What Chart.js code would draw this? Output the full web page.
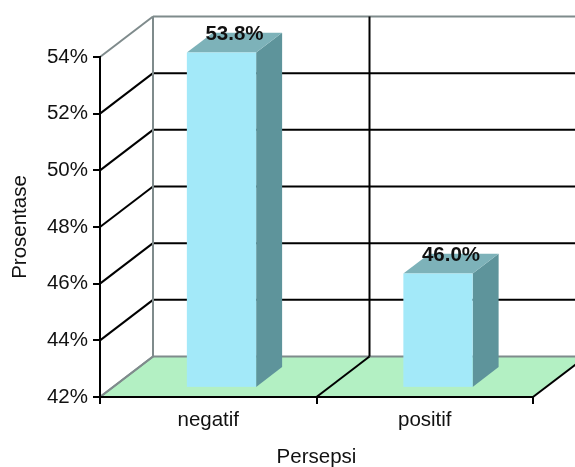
<!DOCTYPE html>
<html>
<head>
<meta charset="utf-8">
<script src="https://cdn.jsdelivr.net/npm/chart.js@4"></script>
<style>
    html, body { margin: 0; padding: 0; background: #fff; }
    canvas { display: block; }
</style>
</head>
<body>
<canvas id="mygra" width="575" height="467"></canvas>
<script>
const categories = ['negatif', 'positif'];
const percentages = [53.8, 46.0];
const yTicks = [42, 44, 46, 48, 50, 52, 54];

// fake depth of the 3d box (full depth of walls / floor)
const DX = 53;
const DY = 40.5;
// bars sit between these fractions of the depth
const BAR_FRONT = 0.25;
const BAR_BACK = 0.74;

const FRONT = '#a3e9f9';
const TOP = '#7db2b9';
const SIDE = '#5e949b';
const FLOOR = '#b3f0c3';
const EDGE = '#7f8b8c';
const FONT = { family: '"Liberation Sans", Arial, sans-serif', size: 20.5 };

function line(ctx, x1, y1, x2, y2, color) {
    ctx.strokeStyle = color;
    ctx.beginPath();
    ctx.moveTo(x1, y1);
    ctx.lineTo(x2, y2);
    ctx.stroke();
}

function poly(ctx, pts, color) {
    ctx.fillStyle = color;
    ctx.beginPath();
    ctx.moveTo(pts[0][0], pts[0][1]);
    for (let i = 1; i < pts.length; i++) ctx.lineTo(pts[i][0], pts[i][1]);
    ctx.closePath();
    ctx.fill();
}

const box3d = {
    id: 'box3d',
    // walls and floor go under the axes
    beforeDraw(chart) {
        const { ctx, chartArea: a, scales: { x, y } } = chart;
        ctx.save();
        poly(ctx, [[a.left, a.bottom], [a.right, a.bottom],
                   [a.right + DX, a.bottom - DY], [a.left + DX, a.bottom - DY]], FLOOR);
        ctx.lineWidth = 2;
        yTicks.forEach((v, i) => {
            const py = y.getPixelForValue(v);
            const edge = i === 0 || i === yTicks.length - 1;
            line(ctx, a.left, py, a.left + DX, py - DY, edge ? EDGE : '#000');
            line(ctx, a.left + DX, py - DY, a.right + DX + 5, py - DY, edge ? EDGE : '#000');
        });
        for (let i = 0; i <= categories.length; i++) {
            const bx = x.getPixelForValue(i - 0.5);
            const c = i === 0 ? EDGE : '#000';
            line(ctx, bx + DX, a.top - DY, bx + DX, a.bottom - DY, c);
            line(ctx, bx, a.bottom, bx + DX, a.bottom - DY, c);
        }
        ctx.restore();
    },
    afterDatasetsDraw(chart) {
        const ctx = chart.ctx;
        const meta = chart.getDatasetMeta(0);
        const floorY = chart.scales.y.getPixelForValue(yTicks[0]);
        const bdx = DX * (BAR_BACK - BAR_FRONT);
        const bdy = DY * (BAR_BACK - BAR_FRONT);
        ctx.save();
        meta.data.forEach((bar, i) => {
            const w = bar.width;
            const fl = bar.x - w / 2 + DX * BAR_FRONT;
            const fr = fl + w;
            const ft = bar.y - DY * BAR_FRONT;
            const fb = floorY - DY * BAR_FRONT;
            poly(ctx, [[fr, ft], [fr + bdx, ft - bdy], [fr + bdx, fb - bdy], [fr, fb]], SIDE);
            poly(ctx, [[fl, ft], [fr, ft], [fr + bdx, ft - bdy], [fl + bdx, ft - bdy]], TOP);
            ctx.fillStyle = FRONT;
            ctx.fillRect(fl, ft, w, fb - ft);

            ctx.fillStyle = '#111';
            ctx.font = 'bold 20.5px "Liberation Sans", Arial, sans-serif';
            ctx.textAlign = 'center';
            ctx.textBaseline = 'alphabetic';
            ctx.fillText(percentages[i].toFixed(1) + '%', fl + w / 2 + bdx / 2, ft - 13);
        });
        ctx.restore();
    }
};

function drawChart() {
    const data = {
        labels: categories,
        datasets: [{
            data: percentages,
            backgroundColor: 'rgba(0,0,0,0)',
            borderWidth: 0,
            barPercentage: 0.32,
            categoryPercentage: 1
        }]
    };

    const axisGrid = {
        drawOnChartArea: false,
        drawTicks: true,
        tickLength: 7,
        color: '#000',
        lineWidth: 2
    };

    const config = {
        type: 'bar',
        data: data,
        plugins: [box3d],
        options: {
            responsive: false,
            animation: false,
            devicePixelRatio: 1,
            layout: { padding: { top: 57, right: 42, left: 0, bottom: 0 } },
            plugins: {
                legend: { display: false },
                tooltip: { enabled: false }
            },
            scales: {
                x: {
                    grid: Object.assign({ offset: true }, axisGrid),
                    border: { color: '#000', width: 2 },
                    ticks: { color: '#111', font: FONT, padding: 4 },
                    title: { display: true, text: 'Persepsi', color: '#111', font: FONT, padding: { top: 0, bottom: -3 } },
                    afterFit(scale) { scale.height = 70; }
                },
                y: {
                    min: yTicks[0],
                    max: yTicks[yTicks.length - 1],
                    grid: axisGrid,
                    border: { color: '#000', width: 2 },
                    ticks: {
                        stepSize: yTicks[1] - yTicks[0],
                        color: '#111',
                        font: FONT,
                        padding: 5,
                        callback: v => v + '%'
                    },
                    title: { display: true, text: 'Prosentase', color: '#111', font: FONT, padding: { top: 8, bottom: 0 } },
                    afterFit(scale) { scale.width = 100; }
                }
            }
        }
    };

    const ctx = document.getElementById('mygra').getContext('2d');
    window.myChart = new Chart(ctx, config);
}

window.onload = drawChart;
</script>
</body>
</html>
